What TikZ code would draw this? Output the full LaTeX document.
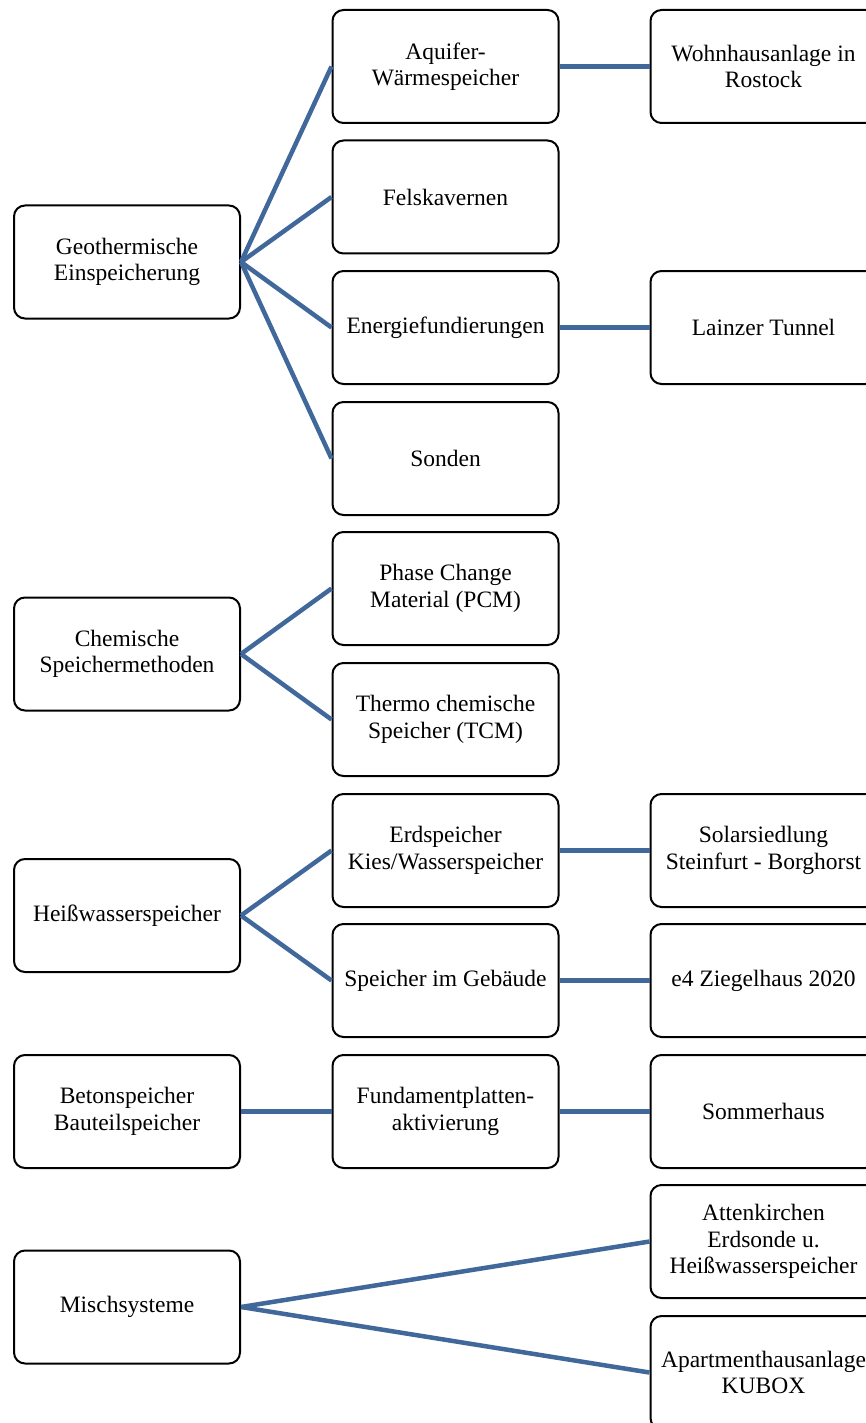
\documentclass[tikz,border=0pt]{standalone}
\usepackage{fontspec}
\setmainfont{Liberation Serif}
\definecolor{linkblue}{RGB}{65,104,155}
\begin{document}
\begin{tikzpicture}[x=1pt,y=-1pt,
  box/.style={draw=black, line width=2pt, rounded corners=11pt, fill=white,
    minimum width=226pt, minimum height=113pt, inner sep=2pt, align=center,
    font=\fontsize{23.5}{26.5}\selectfont},
  link/.style={draw=linkblue, line width=4.5pt}]
\useasboundingbox (0,0) rectangle (866,1423);
% left column
\node[box] (geo) at (127,262) {Geothermische\\Einspeicherung};
\node[box] (chem) at (127,654) {Chemische\\Speichermethoden};
\node[box] (heiss) at (127,915.5) {Heißwasserspeicher};
\node[box] (beton) at (127,1111.5) {Betonspeicher\\Bauteilspeicher};
\node[box] (misch) at (127,1307) {Mischsysteme};
% middle column
\node[box] (aqui) at (445.5,66.5) {Aquifer-\\Wärmespeicher};
\node[box] (fels) at (445.5,197) {Felskavernen};
\node[box] (energ) at (445.5,327.5) {Energiefundierungen};
\node[box] (sond) at (445.5,458.5) {Sonden};
\node[box] (pcm) at (445.5,588.5) {Phase Change\\Material (PCM)};
\node[box] (tcm) at (445.5,719.5) {Thermo chemische\\Speicher (TCM)};
\node[box] (erd) at (445.5,850.5) {Erdspeicher\\Kies/Wasserspeicher};
\node[box] (geb) at (445.5,980.5) {Speicher im Gebäude};
\node[box] (fund) at (445.5,1111.5) {Fundamentplatten-\\aktivierung};
% right column
\node[box] (wohn) at (763.5,66.5) {Wohnhausanlage in\\Rostock};
\node[box] (lainz) at (763.5,327.5) {Lainzer Tunnel};
\node[box] (solar) at (763.5,850.5) {Solarsiedlung\\Steinfurt - Borghorst};
\node[box] (e4) at (763.5,980.5) {e4 Ziegelhaus 2020};
\node[box] (somm) at (763.5,1111.5) {Sommerhaus};
\node[box] (atten) at (763.5,1241.5) {Attenkirchen\\Erdsonde u.\\Heißwasserspeicher};
\node[box] (apart) at (763.5,1372.5) {Apartmenthausanlage\\KUBOX};
% connectors
\begin{scope}[on background layer/.style={}]
\draw[link] (geo.east) -- (aqui.west);
\draw[link] (geo.east) -- (fels.west);
\draw[link] (geo.east) -- (energ.west);
\draw[link] (geo.east) -- (sond.west);
\draw[link] (chem.east) -- (pcm.west);
\draw[link] (chem.east) -- (tcm.west);
\draw[link] (heiss.east) -- (erd.west);
\draw[link] (heiss.east) -- (geb.west);
\draw[link] (beton.east) -- (fund.west);
\draw[link] (misch.east) -- (atten.west);
\draw[link] (misch.east) -- (apart.west);
\draw[link] (aqui.east) -- (wohn.west);
\draw[link] (energ.east) -- (lainz.west);
\draw[link] (erd.east) -- (solar.west);
\draw[link] (geb.east) -- (e4.west);
\draw[link] (fund.east) -- (somm.west);
\end{scope}
\end{tikzpicture}
\end{document}
